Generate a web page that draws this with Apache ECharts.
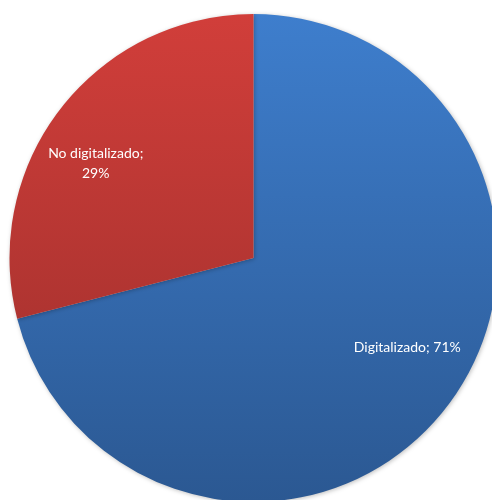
<!DOCTYPE html>
<html><head><meta charset="utf-8">
<script src="https://cdn.jsdelivr.net/npm/echarts@6/dist/echarts.min.js"></script>
<style>html,body{margin:0;padding:0;background:#fff}#c{width:492px;height:500px}</style>
</head><body><div id="c"></div>
<script>
const categories = ['Digitalizado', 'No digitalizado'];
const values = [71, 29];

const chart = echarts.init(document.getElementById('c'));
const grad = (top, bottom) => new echarts.graphic.LinearGradient(0, 14, 0, 502, [
  {offset: 0, color: top}, {offset: 1, color: bottom}
], true);
const colors = [grad('#3e7ecd', '#2b5892'), grad('#d13e3a', '#9a2e2b')];
const shifts = [[55, 13], [-59, -18]];

chart.setOption({
  animation: false,
  series: [{
    type: 'pie',
    center: [253.5, 258],
    radius: 244,
    startAngle: 90,
    clockwise: true,
    data: categories.map((c, i) => ({name: c, value: values[i], itemStyle: {color: colors[i]}})),
    itemStyle: {borderWidth: 0, shadowBlur: 4, shadowColor: 'rgba(0,0,0,0.25)', shadowOffsetX: 1, shadowOffsetY: 1},
    label: {
      show: true,
      position: 'inside',
      color: '#ffffff',
      fontFamily: 'Lato, "Open Sans", sans-serif',
      fontSize: 14,
      lineHeight: 20,
      align: 'center',
      formatter: p => p.dataIndex === 0 ? p.name + '; ' + Math.round(p.percent) + '%' : p.name + ';\n' + Math.round(p.percent) + '%'
    },
    labelLine: {show: false},
    labelLayout: p => ({dx: shifts[p.dataIndex][0], dy: shifts[p.dataIndex][1]}),
    emphasis: {disabled: true}
  }]
});
</script></body></html>
